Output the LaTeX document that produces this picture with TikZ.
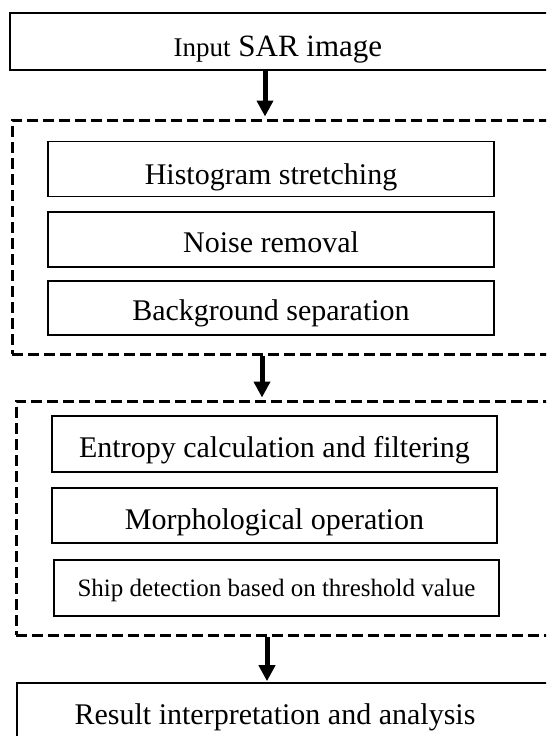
\documentclass[tikz,border=0pt]{standalone}
\usepackage{fontspec}
\setmainfont{Liberation Serif}
\usetikzlibrary{arrows.meta}
\tikzset{
  px/.style={x=1pt,y=-1pt},
  stepbox/.style={draw=black,line width=1.6pt,minimum width=446pt,minimum height=55pt,inner sep=0pt,text depth=0pt,font=\fontsize{30}{34}\selectfont},
  bl/.style={text height=#1},
  outerbox/.style={draw=black,line width=2.2pt,inner sep=0pt},
  groupbox/.style={draw=black,line width=3pt,dash pattern=on 11pt off 5pt,inner sep=0pt},
  flow/.style={line width=5pt,-{Triangle[width=16pt,length=16pt]}},
  lbl/.style={inner sep=0pt,anchor=base}
}
\begin{document}
\begin{tikzpicture}[px]
\useasboundingbox (0,0) rectangle (546,736);
\clip (0,0) rectangle (546,736);
% top box
\node[outerbox,minimum width=560pt,minimum height=57pt] (in) at (290,41.5) {};
\node[lbl,font=\fontsize{31}{34}\selectfont] (intext) at (278,56) {{\fontsize{27}{30}\selectfont Input} SAR image};
% group 1
\node[groupbox,minimum width=560pt,minimum height=234pt] (g1) at (292,237) {};
\node[stepbox,bl=30pt] (hist) at (271,169) {Histogram stretching};
\node[stepbox,bl=25pt] (noise) at (271,239.5) {Noise removal};
\node[stepbox,bl=24pt,minimum height=54pt] (bg) at (271,308) {Background separation};
% group 2
\node[groupbox,minimum width=560pt,minimum height=234pt] (g2) at (296,518) {};
\node[stepbox,bl=26pt,minimum width=445pt,minimum height=56pt] (ent) at (274.5,444) {Entropy calculation and filtering};
\node[stepbox,bl=27pt,minimum width=445pt] (morph) at (274.5,515.5) {Morphological operation};
\node[stepbox,bl=16pt,minimum width=445pt,minimum height=56pt,font=\fontsize{25}{30}\selectfont] (ship) at (276.5,588) {Ship detection based on threshold value};
% result
\node[outerbox,line width=1.6pt,minimum width=560pt,minimum height=90pt] (res) at (297,728) {};
\node[lbl,font=\fontsize{30}{34}\selectfont] (restext) at (275,724) {Result interpretation and analysis};
% arrows
\coordinate (a1) at (265,0);
\coordinate (a2) at (262,0);
\coordinate (a3) at (267,0);
\draw[flow] (in.south -| a1) -- ([yshift=2pt]g1.north -| a1);
\draw[flow] (g1.south -| a2) -- ([yshift=2pt]g2.north -| a2);
\draw[flow] (g2.south -| a3) -- ([yshift=1pt]res.north -| a3);
\end{tikzpicture}
\end{document}
